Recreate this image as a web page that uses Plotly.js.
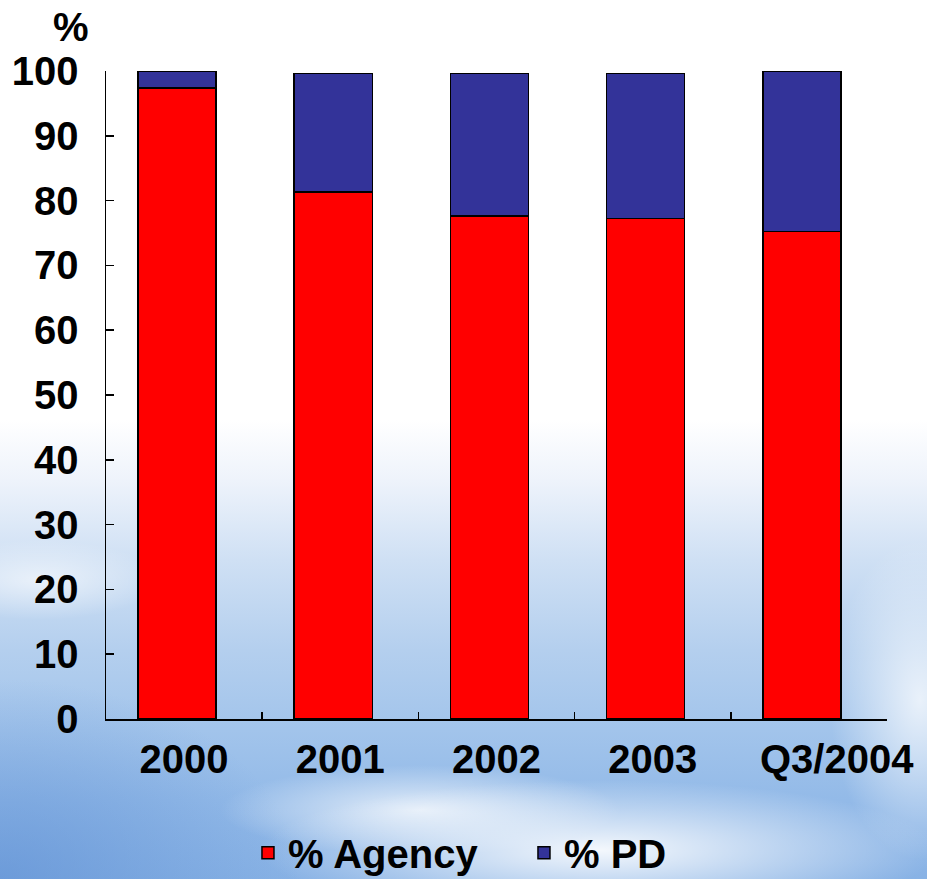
<!DOCTYPE html>
<html>
<head>
<meta charset="utf-8">
<script src="https://cdn.plot.ly/plotly-3.0.1.min.js"></script>
<style>
html, body { margin: 0; padding: 0; }
body {
  width: 927px; height: 879px; overflow: hidden;
  background:
    radial-gradient(ellipse 340px 70px at 600px 850px, rgba(255,255,255,0.9), rgba(255,255,255,0) 100%),
    radial-gradient(ellipse 200px 45px at 420px 810px, rgba(255,255,255,0.75), rgba(255,255,255,0) 100%),
    radial-gradient(ellipse 90px 160px at 920px 700px, rgba(255,255,255,0.75), rgba(255,255,255,0) 100%),
    radial-gradient(ellipse 120px 40px at 40px 580px, rgba(255,255,255,0.6), rgba(255,255,255,0) 100%),
    radial-gradient(ellipse 300px 200px at 0px 879px, rgba(90,140,210,0.6), rgba(90,140,210,0) 100%),
    linear-gradient(to bottom, #ffffff 0px, #ffffff 420px, #eef3fb 480px, #cfe0f4 560px, #b4cfee 650px, #a2c4eb 730px, #93bae8 800px, #88b2e5 879px);
}
#chart { width: 927px; height: 879px; }
</style>
</head>
<body>
<div id="chart"></div>
<script>
var categories = ["2000", "2001", "2002", "2003", "Q3/2004"];
var tickLabels = ["2000", "2001", "2002", "2003", "\u00a0\u00a0\u00a0\u00a0\u00a0Q3/2004"];
var agency = [97.4, 81.3, 77.6, 77.2, 75.2];
var pd = [2.6, 18.3, 22.0, 22.4, 24.8];
var yTicks = [0, 10, 20, 30, 40, 50, 60, 70, 80, 90, 100];

var FAM = "Liberation Sans, Arial, sans-serif";
function bold(size) { return { family: FAM, size: size, color: "#000000", weight: "bold" }; }

var traces = [
  { type: "bar", name: "% Agency", x: categories, y: agency, width: 0.5, offset: -0.295,
    marker: { color: "#ff0000", line: { color: "#000000", width: 1.5 } } },
  { type: "bar", name: "% PD", x: categories, y: pd, width: 0.5, offset: -0.295,
    marker: { color: "#333399", line: { color: "#000000", width: 1.5 } } }
];

var layout = {
  width: 927, height: 879,
  barmode: "stack",
  paper_bgcolor: "rgba(0,0,0,0)",
  plot_bgcolor: "rgba(0,0,0,0)",
  margin: { l: 106, r: 40, t: 71, b: 160, autoexpand: false },
  font: bold(40),
  showlegend: true,
  legend: {
    orientation: "h", xref: "container", yref: "container",
    x: 0.2675, xanchor: "left", y: 0.03, yanchor: "middle",
    font: bold(40),
    bgcolor: "rgba(0,0,0,0)", traceorder: "normal", itemwidth: 30,
    entrywidth: 231, entrywidthmode: "pixels"
  },
  xaxis: {
    type: "category", automargin: false, tickangle: 0,
    tickvals: categories, ticktext: tickLabels,
    showline: true, linecolor: "#000000", linewidth: 2,
    ticks: "inside", ticklen: 7, tickwidth: 1.5, tickcolor: "#000000",
    tickson: "boundaries",
    showgrid: false, zeroline: false,
    tickfont: bold(40),
    ticklabelstandoff: 4
  },
  yaxis: {
    range: [0, 100], automargin: false,
    tickvals: yTicks,
    showline: true, linecolor: "#000000", linewidth: 1.5,
    ticks: "inside", ticklen: 8, tickwidth: 1.5, tickcolor: "#000000",
    showgrid: false, zeroline: false,
    tickfont: bold(40),
    ticklabelstandoff: 18
  },
  annotations: [
    { text: "%", xref: "paper", yref: "paper", x: -0.045, y: 1.068, xanchor: "center", yanchor: "middle",
      showarrow: false, font: bold(40) }
  ]
};

Plotly.newPlot("chart", traces, layout, { displayModeBar: false, staticPlot: true });
</script>
</body>
</html>
